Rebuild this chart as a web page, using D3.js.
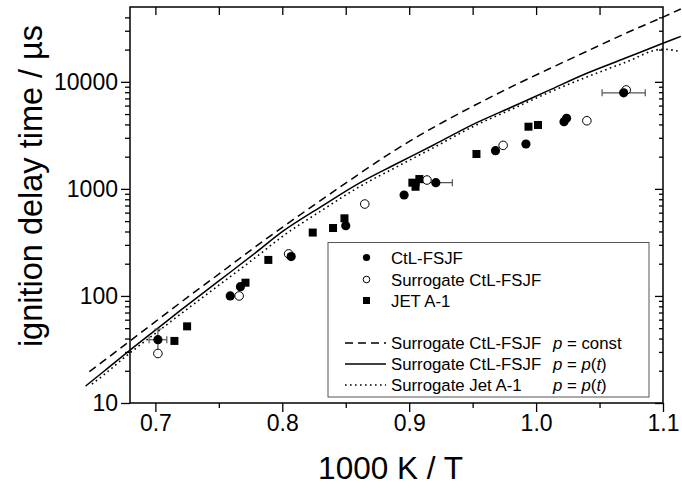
<!DOCTYPE html>
<html>
<head>
<meta charset="utf-8">
<script src="https://cdn.jsdelivr.net/npm/d3@7"></script>
<style>
body { margin: 0; background: #fff; }
text { font-family: "Liberation Sans", Arial, sans-serif; }
</style>
</head>
<body>
<div id="chart"></div>
<script>
// measured points (1000 K / T, ignition delay time in us)
var ctlX = [0.702, 0.759, 0.767, 0.807, 0.850, 0.896, 0.921, 0.968, 0.992, 1.022, 1.024, 1.069];
var ctlY = [39, 100, 122, 233, 453, 877, 1143, 2275, 2625, 4240, 4560, 7900];
var ctlXErr = [0.007, 0, 0, 0, 0, 0, 0.013, 0, 0, 0, 0, 0.017];
var ctlYErrLo = [30, 0, 0, 0, 0, 0, 0, 0, 0, 0, 0, 0];
var ctlYErrHi = [49, 0, 0, 0, 0, 0, 0, 0, 0, 0, 0, 0];

var surX = [0.702, 0.766, 0.805, 0.865, 0.914, 0.974, 1.040, 1.071];
var surY = [29, 100, 247, 722, 1210, 2550, 4330, 8400];

var jetX = [0.715, 0.725, 0.771, 0.789, 0.824, 0.840, 0.849, 0.9025, 0.905, 0.908, 0.953, 0.994, 1.0015];
var jetY = [38, 52, 133, 217, 391, 431, 531, 1143, 1047, 1236, 2117, 3810, 3954];

// simulations
var constX = [0.648, 0.66, 0.68, 0.70, 0.72, 0.75, 0.78, 0.80, 0.83, 0.86, 0.89, 0.92, 0.95, 0.98, 1.01, 1.04, 1.07, 1.10, 1.114];
var constY = [19.6, 25.1, 38.0, 57.5, 87.1, 160, 295, 437, 776, 1365, 2344, 3802, 5900, 8913, 13183, 19275, 28184, 40272, 47863];

var ptX = [0.645, 0.66, 0.68, 0.70, 0.72, 0.75, 0.78, 0.80, 0.83, 0.86, 0.89, 0.92, 0.95, 0.98, 1.01, 1.04, 1.07, 1.10, 1.114];
var ptY = [14.4, 20.0, 31.2, 47.9, 73.6, 138, 259, 398, 676, 1122, 1718, 2600, 3981, 5754, 8318, 12023, 16596, 22909, 26607];

var jetSimX = [0.65, 0.66, 0.68, 0.70, 0.72, 0.75, 0.78, 0.80, 0.83, 0.86, 0.89, 0.92, 0.95, 0.98, 1.01, 1.04, 1.07, 1.10, 1.114];
var jetSimY = [15.0, 18.6, 29.4, 44.7, 67.9, 126, 234, 359, 617, 1035, 1603, 2455, 3802, 5495, 7943, 11090, 15136, 20184, 19100];

// ticks
var xMajor = [0.7, 0.8, 0.9, 1.0, 1.1];
var xMinor = [0.75, 0.85, 0.95, 1.05];
var xTop = [0.7, 0.75, 0.8, 0.85, 0.9, 0.95, 1.0, 1.05];
var yMajor = [10, 100, 1000, 10000];
var yMinor = [20, 30, 40, 50, 60, 70, 80, 90, 200, 300, 400, 500, 600, 700, 800, 900,
  2000, 3000, 4000, 5000, 6000, 7000, 8000, 9000, 20000, 30000, 40000];

var svgWidth = 682;
var svgHeight = 488;
var margin = {top: 7, right: 19, bottom: 85, left: 130};
var chartWidth = svgWidth - margin.left - margin.right;
var chartHeight = svgHeight - margin.top - margin.bottom;

var svg = d3.select('#chart')
    .append('svg')
    .attr('width', svgWidth)
    .attr('height', svgHeight);

var chartGroup = svg.append('g')
    .attr('transform', 'translate(' + margin.left + ',' + margin.top + ')');

var xScale = d3.scaleLinear().domain([0.68, 1.1]).range([0, chartWidth]);
var yScale = d3.scaleLog().domain([10, 50000]).range([chartHeight, 0]);

function styleAxis(g) {
    g.select('.domain').remove();
    g.selectAll('line').attr('stroke', '#000').attr('stroke-width', 1.3);
    g.selectAll('text').attr('font-size', 23).attr('fill', '#000')
        .attr('font-family', '"Liberation Sans", Arial, sans-serif');
}

// bottom axis
chartGroup.append('g')
    .attr('transform', 'translate(0,' + chartHeight + ')')
    .call(d3.axisBottom(xScale).tickValues(xMajor).tickFormat(d3.format('.1f'))
        .tickSize(9).tickPadding(3).tickSizeOuter(0))
    .call(styleAxis);
chartGroup.append('g')
    .attr('transform', 'translate(0,' + chartHeight + ')')
    .call(d3.axisBottom(xScale).tickValues(xMinor).tickFormat('').tickSize(5).tickSizeOuter(0))
    .call(styleAxis);

// top axis, ticks inside
chartGroup.append('g')
    .call(d3.axisTop(xScale).tickValues(xTop).tickFormat('').tickSize(-8).tickSizeOuter(0))
    .call(styleAxis);

// left axis
chartGroup.append('g')
    .call(d3.axisLeft(yScale).tickValues(yMajor).tickFormat(d3.format('d'))
        .tickSize(9).tickPadding(3).tickSizeOuter(0))
    .call(styleAxis);
chartGroup.append('g')
    .call(d3.axisLeft(yScale).tickValues(yMinor).tickFormat('').tickSize(5).tickSizeOuter(0))
    .call(styleAxis);

// right axis, ticks inside
chartGroup.append('g')
    .attr('transform', 'translate(' + chartWidth + ',0)')
    .call(d3.axisRight(yScale).tickValues(yMajor).tickFormat('').tickSize(-8).tickSizeOuter(0))
    .call(styleAxis);
chartGroup.append('g')
    .attr('transform', 'translate(' + chartWidth + ',0)')
    .call(d3.axisRight(yScale).tickValues(yMinor).tickFormat('').tickSize(-4).tickSizeOuter(0))
    .call(styleAxis);

// frame
chartGroup.append('rect')
    .attr('width', chartWidth)
    .attr('height', chartHeight)
    .attr('fill', 'none')
    .attr('stroke', '#000')
    .attr('stroke-width', 1.5);

// simulation curves (not clipped, they run past the frame like the original)
var line = d3.line()
    .x(function (d) { return xScale(d[0]); })
    .y(function (d) { return yScale(d[1]); })
    .curve(d3.curveMonotoneX);

chartGroup.append('path')
    .attr('d', line(d3.zip(constX, constY)))
    .attr('fill', 'none').attr('stroke', '#000').attr('stroke-width', 1.5)
    .attr('stroke-dasharray', '8,5');

chartGroup.append('path')
    .attr('d', line(d3.zip(ptX, ptY)))
    .attr('fill', 'none').attr('stroke', '#000').attr('stroke-width', 1.5);

chartGroup.append('path')
    .attr('d', line(d3.zip(jetSimX, jetSimY)))
    .attr('fill', 'none').attr('stroke', '#000').attr('stroke-width', 1.6)
    .attr('stroke-dasharray', '1.6,3.4');

// error bars
var ctlData = ctlX.map(function (x, i) {
    return {x: x, y: ctlY[i], xe: ctlXErr[i], ylo: ctlYErrLo[i], yhi: ctlYErrHi[i]};
});
var errGroup = chartGroup.append('g').attr('stroke', '#555').attr('stroke-width', 1.2);
ctlData.forEach(function (d) {
    var cy = yScale(d.y);
    if (d.xe > 0) {
        var x0 = xScale(d.x - d.xe), x1 = xScale(d.x + d.xe);
        errGroup.append('line').attr('x1', x0).attr('x2', x1).attr('y1', cy).attr('y2', cy);
        errGroup.append('line').attr('x1', x0).attr('x2', x0).attr('y1', cy - 3.5).attr('y2', cy + 3.5);
        errGroup.append('line').attr('x1', x1).attr('x2', x1).attr('y1', cy - 3.5).attr('y2', cy + 3.5);
    }
    if (d.yhi > 0) {
        var cx = xScale(d.x), y0 = yScale(d.ylo), y1 = yScale(d.yhi);
        errGroup.append('line').attr('x1', cx).attr('x2', cx).attr('y1', y0).attr('y2', y1);
        errGroup.append('line').attr('x1', cx - 3.5).attr('x2', cx + 3.5).attr('y1', y1).attr('y2', y1);
        errGroup.append('line').attr('x1', cx - 3.5).attr('x2', cx + 3.5).attr('y1', y0).attr('y2', y0);
    }
});

// points
chartGroup.selectAll('.sur')
    .data(d3.zip(surX, surY))
    .enter()
    .append('circle')
    .attr('class', 'sur')
    .attr('cx', function (d) { return xScale(d[0]); })
    .attr('cy', function (d) { return yScale(d[1]); })
    .attr('r', 4.3)
    .attr('fill', '#fff')
    .attr('stroke', '#000')
    .attr('stroke-width', 1);

chartGroup.selectAll('.ctl')
    .data(ctlData)
    .enter()
    .append('circle')
    .attr('class', 'ctl')
    .attr('cx', function (d) { return xScale(d.x); })
    .attr('cy', function (d) { return yScale(d.y); })
    .attr('r', 4.6)
    .attr('fill', '#000');

chartGroup.selectAll('.jet')
    .data(d3.zip(jetX, jetY))
    .enter()
    .append('rect')
    .attr('class', 'jet')
    .attr('x', function (d) { return xScale(d[0]) - 4; })
    .attr('y', function (d) { return yScale(d[1]) - 4; })
    .attr('width', 8)
    .attr('height', 8)
    .attr('fill', '#000');

// legend
var legend = svg.append('g').attr('font-size', 16.8);
legend.append('rect')
    .attr('x', 328).attr('y', 242.5)
    .attr('width', 321).attr('height', 154.5)
    .attr('fill', '#fff')
    .attr('stroke', '#555')
    .attr('stroke-width', 1);

legend.append('circle').attr('cx', 366.5).attr('cy', 257.5).attr('r', 3.6).attr('fill', '#000');
legend.append('text').attr('x', 391).attr('y', 263.5).text('CtL-FSJF');

legend.append('circle').attr('cx', 366.5).attr('cy', 279.5).attr('r', 3.3)
    .attr('fill', '#fff').attr('stroke', '#000').attr('stroke-width', 1);
legend.append('text').attr('x', 391).attr('y', 285.5).text('Surrogate CtL-FSJF');

legend.append('rect').attr('x', 363).attr('y', 297).attr('width', 7).attr('height', 7).attr('fill', '#000');
legend.append('text').attr('x', 391).attr('y', 306.5).text('JET A-1');

var legendLines = [
    {y: 343, dash: '8,5', name: 'Surrogate CtL-FSJF', cond: 'const'},
    {y: 364, dash: null, name: 'Surrogate CtL-FSJF', cond: 'pt'},
    {y: 385, dash: '1.6,3.4', name: 'Surrogate Jet A-1', cond: 'pt'}
];
legendLines.forEach(function (d) {
    var l = legend.append('line')
        .attr('x1', 345).attr('x2', 386)
        .attr('y1', d.y).attr('y2', d.y)
        .attr('stroke', '#000').attr('stroke-width', 1.4);
    if (d.dash) l.attr('stroke-dasharray', d.dash);
    legend.append('text').attr('x', 391).attr('y', d.y + 6).text(d.name);
    var t = legend.append('text').attr('x', 553).attr('y', d.y + 6);
    t.append('tspan').attr('font-style', 'italic').text('p');
    if (d.cond === 'const') {
        t.append('tspan').text(' = const');
    } else {
        t.append('tspan').text(' = ');
        t.append('tspan').attr('font-style', 'italic').text('p');
        t.append('tspan').text('(');
        t.append('tspan').attr('font-style', 'italic').text('t');
        t.append('tspan').text(')');
    }
});

// axis titles
svg.append('text')
    .attr('x', margin.left + chartWidth / 2 - 6)
    .attr('y', 479)
    .attr('text-anchor', 'middle')
    .attr('font-size', 31.5)
    .text('1000 K / T');

svg.append('text')
    .attr('transform', 'translate(42,186) rotate(-90)')
    .attr('text-anchor', 'middle')
    .attr('font-size', 32.5)
    .text('ignition delay time / \u00b5s');
</script>
</body>
</html>
